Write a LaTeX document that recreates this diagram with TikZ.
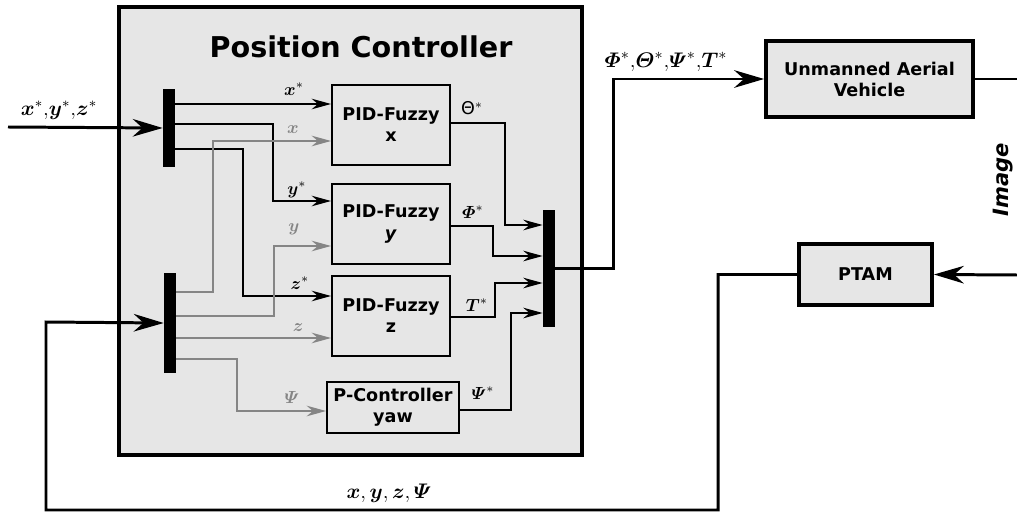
\documentclass[tikz,border=0pt]{standalone}
\usepackage[no-math]{fontspec}
\setmainfont{DejaVu Sans}
\usepackage{amsmath,bm}
\usetikzlibrary{arrows.meta}
\definecolor{boxgray}{HTML}{E6E6E6}
\definecolor{sgray}{HTML}{858585}
\begin{document}
\begin{tikzpicture}[x=0.02cm, y=-0.02cm, font=\bfseries,
  blk/.style={draw, fill=boxgray, line width=1.1pt, align=center, inner sep=1pt},
  bigblk/.style={draw, fill=boxgray, line width=2.2pt, align=center, inner sep=1pt},
  mux/.style={fill=black, minimum width=0.24cm, inner sep=0pt},
  sig/.style={line width=1.1pt, -{Stealth[length=11pt,width=6pt]}},
  meas/.style={sig, draw=sgray},
  fb/.style={line width=1.7pt},
  fbarr/.style={fb, -{Stealth[length=17pt,width=10pt]}},
  lbl/.style={font=\normalsize},
  glbl/.style={lbl, text=sgray},
  olbl/.style={font=\large}]
  \useasboundingbox (0,0) rectangle (1017,513);
  % position controller frame
  \draw[line width=2.3pt, fill=boxgray] (119,7) rectangle (582,455);
  \node[font=\fontsize{16.3}{19}\selectfont\bfseries] (title) at (361,47) {Position Controller};
  % mux bars
  \node[mux, minimum height=1.56cm] (muxin) at (169,128) {};
  \node[mux, minimum height=2.0cm] (muxfb) at (170,323) {};
  \node[mux, minimum height=2.34cm] (muxout) at (549,268.5) {};
  % blocks
  \node[blk, minimum width=2.36cm, minimum height=1.6cm] (pidx) at (391,125) {PID-Fuzzy\\x};
  \node[blk, minimum width=2.36cm, minimum height=1.6cm] (pidy) at (391,224) {PID-Fuzzy\\\textit{y}};
  \node[blk, minimum width=2.36cm, minimum height=1.6cm] (pidz) at (391,316) {PID-Fuzzy\\z};
  \node[blk, minimum width=2.64cm, minimum height=1.02cm] (pyaw) at (393,407.5) {P-Controller\\yaw};
  \node[bigblk, minimum width=4.14cm, minimum height=1.52cm] (uav) at (869.5,79) {Unmanned Aerial\\Vehicle};
  \node[bigblk, minimum width=2.66cm, minimum height=1.22cm] (ptam) at (865.5,274.5) {PTAM};
  \coordinate (ref) at (8,127);
  \coordinate (bendout) at (613,79);
  \coordinate (uavout) at (1017,79);
  \coordinate (img) at (1017,275);
  % references
  \draw[fbarr] (ref) -- (muxin.west);
  \draw[sig] (muxin.east |- 0,104) -- (pidx.west |- 0,104);
  \draw[sig] (muxin.east |- 0,124) -| (273,201) -- (pidy.west |- 0,201);
  \draw[sig] (muxin.east |- 0,149) -| (243,296) -- (pidz.west |- 0,296);
  % measurements
  \draw[meas] (muxfb.east |- 0,292) -| (213,141) -- (pidx.west |- 0,141);
  \draw[meas] (muxfb.east |- 0,316) -| (274,246) -- (pidy.west |- 0,246);
  \draw[meas] (muxfb.east |- 0,338) -- (pidz.west |- 0,338);
  \draw[meas] (muxfb.east |- 0,359) -| (237,411) -- (pyaw.west |- 0,411);
  % controller outputs
  \draw[sig] (pidx.east |- 0,123) -| (505,225) -- (muxout.west |- 0,225);
  \draw[sig] (pidy.east |- 0,226) -| (493,256) -- (muxout.west |- 0,256);
  \draw[sig] (pidz.east |- 0,317) -| (495,283) -- (muxout.west |- 0,283);
  \draw[sig] (pyaw.east |- 0,410) -| (511,313) -- (muxout.west |- 0,313);
  % outer loop
  \draw[fbarr] (muxout.east) -| (bendout) -- (uav.west);
  \draw[fb] (uav.east) -- (uavout);
  \draw[fbarr] (img) -- (ptam.east);
  \draw[fbarr] (ptam.west) -| (718,510) -| (46,322) -- (muxfb.west);
  % labels
  \node[olbl] (lref) at (59,110) {$\bm{x}^*{,}\bm{y}^*{,}\bm{z}^*$};
  \node[lbl] (lxs) at (294,89) {$\bm{x}^*$};
  \node[lbl] (lys) at (297,190) {$\bm{y}^*$};
  \node[lbl] (lzs) at (300,283) {$\bm{z}^*$};
  \node[glbl] (lx) at (293,130) {$\bm{x}$};
  \node[glbl] (ly) at (294,229) {$\bm{y}$};
  \node[glbl] (lz) at (298,328) {$\bm{z}$};
  \node[glbl] (lpsi) at (292,397) {$\bm{\varPsi}$};
  \node[lbl] (lth) at (472,108) {{\mdseries Θ}$^*$};
  \node[lbl] (lphi) at (473,212) {$\bm{\varPhi}^*$};
  \node[lbl] (lt) at (477,305) {$\bm{T}^*$};
  \node[lbl] (lpsis) at (483,393) {$\bm{\varPsi}^*$};
  \node[font=\fontsize{13}{15}\selectfont] (lcmd) at (666,62) {$\bm{\varPhi}^*{,}\bm{\varTheta}^*{,}\bm{\varPsi}^*{,}\bm{T}^*$};
  \node[rotate=90, font=\large\bfseries\itshape] (limg) at (1003,180) {Image};
  \node[font=\fontsize{13}{15}\selectfont] (lmeas) at (389,493) {$\bm{x},\bm{y},\bm{z},\bm{\varPsi}$};
\end{tikzpicture}
\end{document}
